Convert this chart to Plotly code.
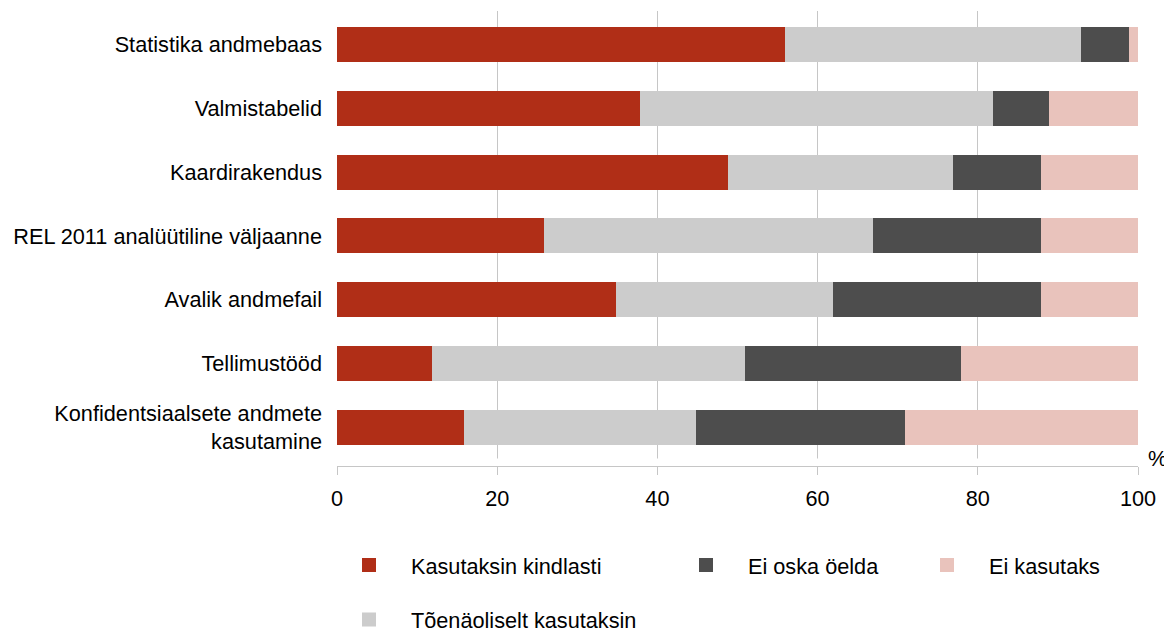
import plotly.graph_objects as go

categories = [
    "Statistika andmebaas",
    "Valmistabelid",
    "Kaardirakendus",
    "REL 2011 analüütiline väljaanne",
    "Avalik andmefail",
    "Tellimustööd",
    "Konfidentsiaalsete andmete<br>kasutamine",
]
kasutaksin_kindlasti = [56, 38, 49, 26, 35, 12, 16]
toenaoliselt_kasutaksin = [37, 44, 28, 41, 27, 39, 29]
ei_oska_oelda = [6, 7, 11, 21, 26, 27, 26]
ei_kasutaks = [1, 11, 12, 12, 12, 22, 29]

series = [
    ("Kasutaksin kindlasti", kasutaksin_kindlasti, "#B02E17", "legend"),
    ("Tõenäoliselt kasutaksin", toenaoliselt_kasutaksin, "#CCCCCC", "legend4"),
    ("Ei oska öelda", ei_oska_oelda, "#4D4D4D", "legend2"),
    ("Ei kasutaks", ei_kasutaks, "#E9C3BC", "legend3"),
]

FONT = "Liberation Sans, Arial, sans-serif"
FS = 21.7
# the page body adds an 8px offset; the figure is sized to fit the window
OFF = 8
W, H = 1172 - OFF, 633 - OFF

fig = go.Figure()
for name, vals, color, leg in series:
    fig.add_trace(go.Bar(
        y=categories, x=vals, name=name, orientation="h",
        marker=dict(color=color, line=dict(color=color, width=2)),
        legend=leg, hoverinfo="x+name",
    ))

top, bottom_plot, axis_y = 11 - OFF, 459 - OFF, 466.5 - OFF
left, right = 337 - OFF, 1138 - OFF
plot_h = axis_y - top
Y_BOTTOM, Y_TOP = 6.6, -0.52
grid_end = Y_BOTTOM - (axis_y - bottom_plot) / plot_h * (Y_BOTTOM - Y_TOP)

def leg(xpx, ypx):
    return dict(
        x=(xpx - OFF) / W, y=1 - (ypx - OFF) / H, xref="container", yref="container",
        xanchor="left", yanchor="middle", orientation="h",
        font=dict(family=FONT, size=FS, color="#000000"),
        bgcolor="rgba(0,0,0,0)", itemwidth=74,
    )

fig.update_layout(
    width=W, height=H,
    barmode="stack", bargap=0.484,
    paper_bgcolor="white", plot_bgcolor="white",
    margin=dict(l=left, r=W - right, t=top, b=H - axis_y, pad=0),
    font=dict(family=FONT, size=FS, color="#000000"),
    showlegend=True,
    legend=leg(327, 565.5),
    legend2=leg(664, 565.5),
    legend3=leg(905, 565.5),
    legend4=leg(327, 620),
    xaxis=dict(
        range=[0, 100], dtick=20, showgrid=True, gridcolor="#C6C6C6", gridwidth=1,
        zeroline=False,
        showline=True, linecolor="#C6C6C6", linewidth=1,
        ticks="outside", ticklen=8, tickcolor="#C6C6C6", tickwidth=1,
        ticklabelstandoff=5,
        tickfont=dict(family=FONT, size=FS, color="#000000"),
    ),
    yaxis=dict(
        categoryorder="array", categoryarray=categories,
        range=[Y_BOTTOM, Y_TOP],
        showgrid=False, zeroline=False, showline=False, ticks="",
        ticklabelstandoff=14,
        tickfont=dict(family=FONT, size=FS, color="#000000"),
    ),
    shapes=[dict(
        type="rect", layer="between",
        xref="x", yref="y",
        x0=-1, x1=101, y0=grid_end, y1=Y_BOTTOM + 0.2,
        fillcolor="white", line=dict(width=0),
    )],
    annotations=[dict(
        text="%", x=(1157 - OFF - left) / (right - left), y=(axis_y - (459 - OFF)) / plot_h,
        xref="paper", yref="paper",
        xanchor="center", yanchor="middle", showarrow=False,
        font=dict(family=FONT, size=FS, color="#000000"),
    )],
)

fig.write_html("out.html")
